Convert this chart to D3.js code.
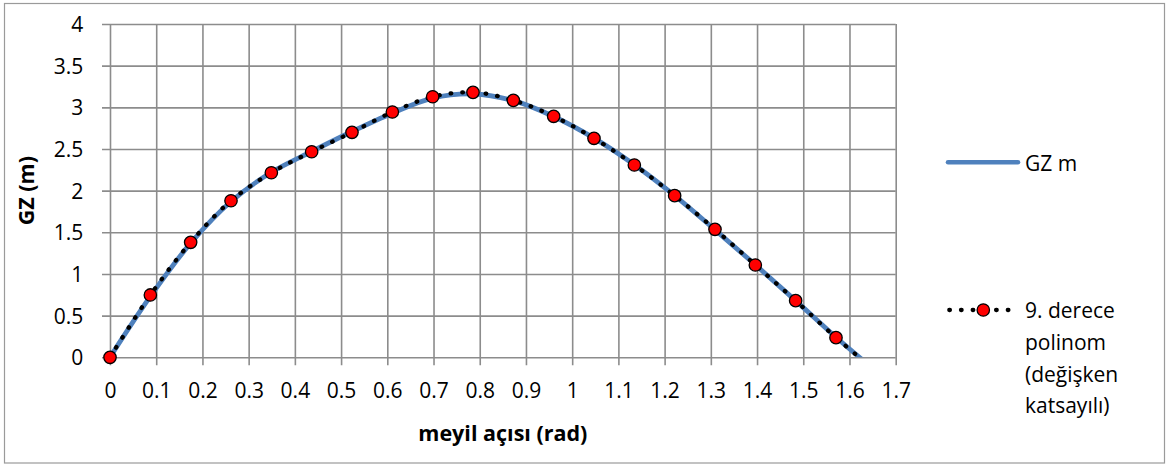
<!DOCTYPE html>
<html>
<head>
<meta charset="utf-8">
<script src="https://cdn.jsdelivr.net/npm/d3@7"></script>
<style>
  html, body { margin: 0; padding: 0; background: #fff; }
  svg { display: block; }
  text { font-family: "Open Sans", "Noto Sans", sans-serif; fill: #000; }
</style>
</head>
<body>
<svg id="chart" width="1168" height="465"></svg>
<script>
// Heel angle (rad), every 5 degrees from 0 to 95
const angles = [0, 0.0873, 0.1745, 0.2618, 0.3491, 0.4363, 0.5236, 0.6109, 0.6981, 0.7854,
                0.8727, 0.9599, 1.0472, 1.1345, 1.2217, 1.3090, 1.3963, 1.4835, 1.5708, 1.6581];
// GZ righting arm (m)
const gzValues = [0, 0.73, 1.37, 1.87, 2.22, 2.47, 2.71, 2.93, 3.11, 3.16,
                  3.08, 2.89, 2.63, 2.31, 1.94, 1.53, 1.11, 0.68, 0.24, -0.17];
// 9th degree polynomial fit
const polyValues = [0, 0.748, 1.38, 1.879, 2.215, 2.467, 2.70, 2.944, 3.127, 3.18,
                    3.084, 2.892, 2.628, 2.308, 1.94, 1.536, 1.108, 0.68, 0.236, -0.17];

const xTickValues = [0, 0.1, 0.2, 0.3, 0.4, 0.5, 0.6, 0.7, 0.8, 0.9, 1, 1.1, 1.2, 1.3, 1.4, 1.5, 1.6, 1.7];
const xTickLabels = ["0", "0.1", "0.2", "0.3", "0.4", "0.5", "0.6", "0.7", "0.8", "0.9", "1", "1.1", "1.2", "1.3", "1.4", "1.5", "1.6", "1.7"];
const yTickValues = [0, 0.5, 1, 1.5, 2, 2.5, 3, 3.5, 4];
const yTickLabels = ["0", "0.5", "1", "1.5", "2", "2.5", "3", "3.5", "4"];

const xTitle = "meyil açısı (rad)";
const yTitle = "GZ (m)";
const legendEntries = [
  { key: "gz", lines: ["GZ m"] },
  { key: "poly", lines: ["9. derece", "polinom", "(değişken", "katsayılı)"] }
];

const svg = d3.select("#chart");
const gridColor = "#8c8c8c";
const blue = "#4F81BD";

// outer chart frame
svg.append("rect")
  .attr("x", 4.5).attr("y", 3.5).attr("width", 1160).attr("height", 459.5)
  .attr("fill", "#fff").attr("stroke", "#9a9a9a").attr("stroke-width", 1.2);

const x = d3.scaleLinear().domain([0, 1.7]).range([110, 895.7]);
const y = d3.scaleLinear().domain([0, 4]).range([357.3, 24]);

// gridlines with outward tick marks
const xAxis = d3.axisBottom(x).tickValues(xTickValues)
  .tickSizeInner(-(y(0) - y(4)) - 8).tickSizeOuter(0)
  .tickFormat((d, i) => xTickLabels[i]);
const gx = svg.append("g").attr("transform", `translate(0,${y(0) + 8})`).call(xAxis);
gx.select(".domain").remove();
gx.selectAll(".tick line").attr("stroke", gridColor).attr("stroke-width", 1.6);
gx.selectAll(".tick text")
  .attr("y", 0).attr("dy", 0)
  .attr("transform", `translate(0,${398.3 - (y(0) + 8)})`)
  .style("font-size", "21px").style("font-family", '"Open Sans", sans-serif')
  .attr("fill", "#000");

const yAxis = d3.axisLeft(y).tickValues(yTickValues)
  .tickSizeInner(-(x(1.7) - x(0)) - 8).tickSizeOuter(0)
  .tickFormat((d, i) => yTickLabels[i]);
const gy = svg.append("g").attr("transform", `translate(${x(0) - 8},0)`).call(yAxis);
gy.select(".domain").remove();
gy.selectAll(".tick line").attr("stroke", gridColor).attr("stroke-width", 1.6);
gy.selectAll(".tick text")
  .attr("x", 83.3 - (x(0) - 8)).attr("dy", "0.36em")
  .style("font-size", "21px").style("font-family", '"Open Sans", sans-serif')
  .attr("fill", "#000");

// clip series at the value axis minimum
svg.append("defs").append("clipPath").attr("id", "plotClip")
  .append("rect").attr("x", 95).attr("y", 10).attr("width", 820).attr("height", y(0) - 10);

const gzData = angles.map((a, i) => [a, gzValues[i]]);
const polyData = angles.map((a, i) => [a, polyValues[i]]);

const line = d3.line().x(d => x(d[0])).y(d => y(d[1])).curve(d3.curveCatmullRom.alpha(0.5));

const series = svg.append("g").attr("clip-path", "url(#plotClip)");
series.append("path").datum(gzData)
  .attr("d", line).attr("fill", "none")
  .attr("stroke", blue).attr("stroke-width", 4.8).attr("stroke-linecap", "round");
series.append("path").datum(polyData)
  .attr("d", line).attr("fill", "none")
  .attr("stroke", "#000").attr("stroke-width", 4.3)
  .attr("stroke-linecap", "round").attr("stroke-dasharray", "0.6 11.1");

// markers for points inside the value range
svg.append("g").selectAll("circle")
  .data(polyData.filter(d => d[1] >= 0 && d[0] <= 1.7))
  .join("circle")
  .attr("cx", d => x(d[0])).attr("cy", d => y(d[1]))
  .attr("r", 6.2).attr("fill", "#FF0000").attr("stroke", "#000").attr("stroke-width", 1.3);

// axis titles
svg.append("text")
  .attr("x", (x(0) + x(1.7)) / 2).attr("y", 440.7)
  .attr("text-anchor", "middle")
  .style("font-size", "21.5px").style("font-weight", "bold")
  .text(xTitle);
svg.append("text")
  .attr("transform", `translate(34,${(y(0) + y(4)) / 2}) rotate(-90)`)
  .attr("text-anchor", "middle")
  .style("font-size", "21.5px").style("font-weight", "bold")
  .text(yTitle);

// legend
const legend = svg.append("g");
const lgGz = legend.append("g");
lgGz.append("line").attr("x1", 948).attr("x2", 1018).attr("y1", 162.3).attr("y2", 162.3)
  .attr("stroke", blue).attr("stroke-width", 4.5).attr("stroke-linecap", "round");
lgGz.append("text").attr("x", 1025).attr("y", 170.7).style("font-size", "21px")
  .text(legendEntries[0].lines[0]);

const lgPoly = legend.append("g");
lgPoly.append("line").attr("x1", 949.3).attr("x2", 1010).attr("y1", 310).attr("y2", 310)
  .attr("stroke", "#000").attr("stroke-width", 4.3).attr("stroke-linecap", "round")
  .attr("stroke-dasharray", "0.6 11.1");
lgPoly.append("circle").attr("cx", 983.3).attr("cy", 310).attr("r", 6.2)
  .attr("fill", "#FF0000").attr("stroke", "#000").attr("stroke-width", 1.3);
lgPoly.selectAll("text").data(legendEntries[1].lines).join("text")
  .attr("x", 1025).attr("y", (d, i) => 318.3 + i * 31.7)
  .style("font-size", "21px")
  .text(d => d);
</script>
</body>
</html>
